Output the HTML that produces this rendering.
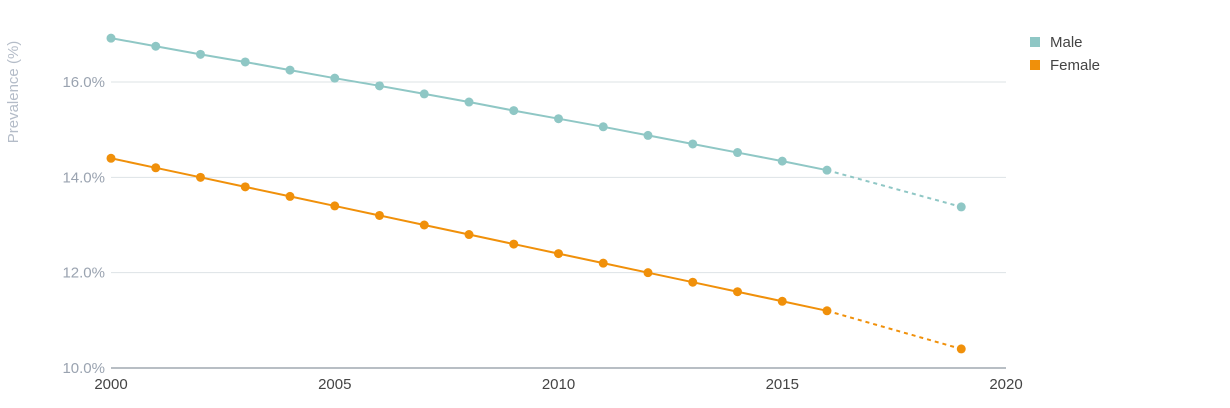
<!DOCTYPE html>
<html><head><meta charset="utf-8"><style>
body{margin:0;background:#fff;font-family:"Liberation Sans",sans-serif;}
svg text{font-family:"Liberation Sans",sans-serif;}
</style></head><body>
<svg id="chart" width="1230" height="403" viewBox="0 0 1230 403">
<g id="grid"></g>
<g id="axes"></g>
<g id="series"></g>
<text transform="translate(18,92) rotate(-90)" text-anchor="middle" font-size="15" fill="#b4bcc8">Prevalence (%)</text>
<g>
<g><rect x="1030" y="37" width="10" height="10" fill="#8fc7c5"/><text x="1050" y="47" font-size="15" fill="#444">Male</text></g>
<g><rect x="1030" y="60" width="10" height="10" fill="#f0900a"/><text x="1050" y="70" font-size="15" fill="#444">Female</text></g>
</g>
</svg>
<script>
const years=[2000,2001,2002,2003,2004,2005,2006,2007,2008,2009,2010,2011,2012,2013,2014,2015,2016];
const maleValues=[16.92,16.75,16.58,16.42,16.25,16.08,15.92,15.75,15.58,15.4,15.23,15.06,14.88,14.7,14.52,14.34,14.15];
const femaleValues=[14.4,14.2,14.0,13.8,13.6,13.4,13.2,13.0,12.8,12.6,12.4,12.2,12.0,11.8,11.6,11.4,11.2];
const projYear=2019;
const maleProj=13.38;
const femaleProj=10.4;
const xTicks=[2000,2005,2010,2015,2020];
const yTicks=[10,12,14,16];
const yTickLabels=["10.0%","12.0%","14.0%","16.0%"];
const ns="http://www.w3.org/2000/svg";
const x=v=>111+(v-2000)*(1006-111)/20;
const y=v=>368-(v-10)*(368-82)/6;
function mk(tag,attrs,parent){const e=document.createElementNS(ns,tag);for(const k in attrs)e.setAttribute(k,attrs[k]);parent.appendChild(e);return e;}
const grid=document.getElementById('grid'),axes=document.getElementById('axes'),series=document.getElementById('series');
yTicks.forEach((t,i)=>{
 if(i>0){const l=mk('line',{x1:111,x2:1006,y1:y(t),y2:y(t),stroke:'#dde3e6','stroke-width':1},grid);
 
 }
 const tx=mk('text',{x:105,y:y(t)+5,'text-anchor':'end','font-size':15,fill:'#9aa3b0'},axes);tx.textContent=yTickLabels[i];
 
 
});
const ax=mk('line',{x1:111,x2:1006,y1:368,y2:368,stroke:'#a0a8b0','stroke-width':1.5},axes);


xTicks.forEach(t=>{
 const tx=mk('text',{x:x(t),y:389,'text-anchor':'middle','font-size':15,fill:'#444'},axes);tx.textContent=t;
 
 
});
function draw(vals,proj,color,name){
 const pts=years.map((yr,i)=>x(yr)+','+y(vals[i])).join(' ');
 const pl=mk('polyline',{points:pts,fill:'none',stroke:color,'stroke-width':2},series);
 
 
 const last=years.length-1;
 const d=mk('line',{x1:x(years[last]),y1:y(vals[last]),x2:x(projYear),y2:y(proj),stroke:color,'stroke-width':2,'stroke-dasharray':'4,4'},series);
 
 
 years.forEach((yr,i)=>{const c=mk('circle',{cx:x(yr),cy:y(vals[i]),r:4.5,fill:color},series);
 
 });
 const c=mk('circle',{cx:x(projYear),cy:y(proj),r:4.5,fill:color},series);
 
 
}
draw(maleValues,maleProj,'#8fc7c5','male');
draw(femaleValues,femaleProj,'#f0900a','female');
</script>
</body></html>
